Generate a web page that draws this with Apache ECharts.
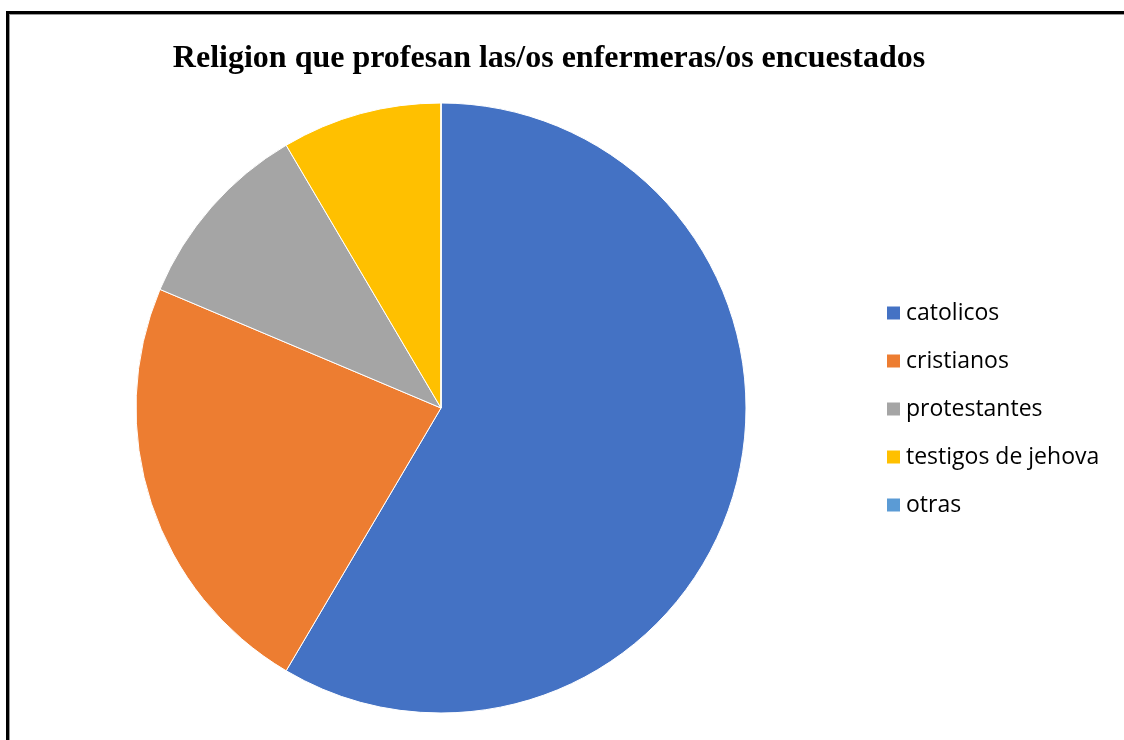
<!DOCTYPE html>
<html><head><meta charset="utf-8">
<script src="https://cdn.jsdelivr.net/npm/echarts@6/dist/echarts.min.js"></script>
<style>
html,body{margin:0;padding:0;background:#fff;overflow:hidden;}
#frame{position:absolute;left:6px;top:11px;width:1200px;height:800px;border-left:3px solid #000;border-top:3px solid #000;box-shadow:inset 1px 1px 0 #999;}
#chart{position:absolute;left:0;top:0;width:1124px;height:740px;}
</style></head>
<body>
<div id="frame"></div>
<div id="chart"></div>
<script>
const categories = ["catolicos", "cristianos", "protestantes", "testigos de jehova", "otras"];
const values = [69, 27, 12, 10, 0];
const colors = ["#4472C4", "#ED7D31", "#A5A5A5", "#FFC000", "#5B9BD5"];
const titleText = "Religion que profesan las/os enfermeras/os encuestados";

const chart = echarts.init(document.getElementById('chart'));
chart.setOption({
  animation: false,
  color: colors,
  title: {
    text: titleText,
    left: 544, top: 38, textAlign: 'center',
    textStyle: {fontFamily: 'Liberation Serif', fontWeight: 'bold', fontSize: 32, color: '#000'}
  },
  legend: {
    orient: 'vertical', left: 880, top: 296,
    icon: 'rect', itemWidth: 15, itemHeight: 15, itemGap: 24,
    data: categories,
    textStyle: {fontFamily: 'Open Sans', fontSize: 23, color: '#000', lineHeight: 24}
  },
  series: [{
    type: 'pie',
    center: [441, 408], radius: 305,
    startAngle: 90, clockwise: true,
    label: {show: false}, labelLine: {show: false},
    itemStyle: {borderColor: '#fff', borderWidth: 1},
    emphasis: {disabled: true},
    data: categories.map((c, i) => ({name: c, value: values[i]}))
  }]
});
</script>
</body></html>
